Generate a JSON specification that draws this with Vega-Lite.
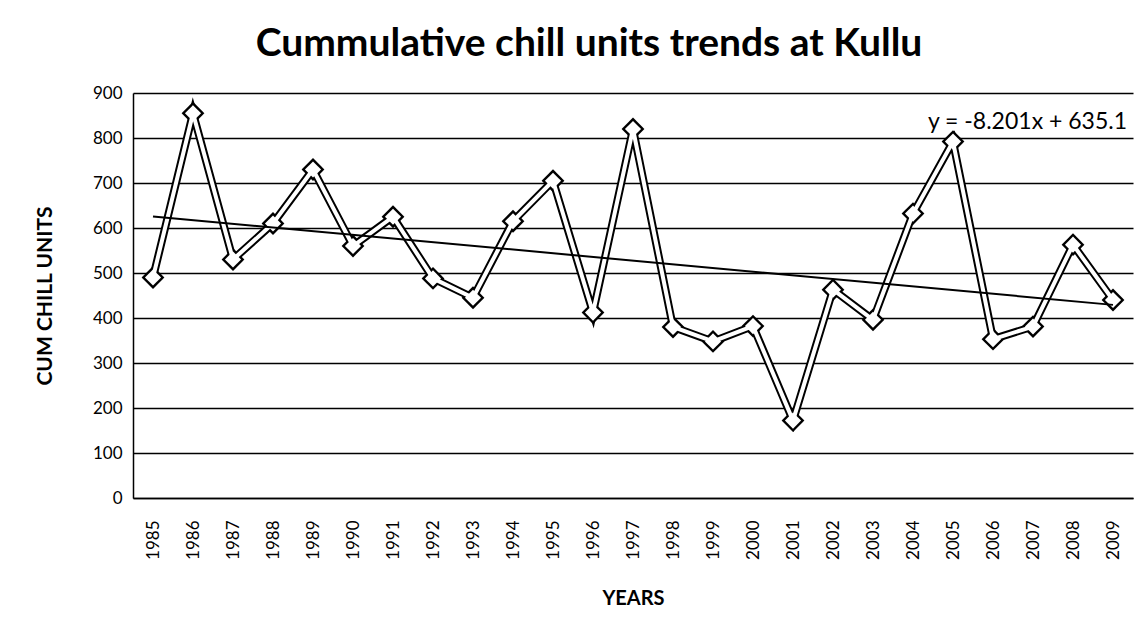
{
  "$schema": "https://vega.github.io/schema/vega-lite/v6.json",
  "autosize": {"type": "none"},
  "width": 1000,
  "height": 405,
  "padding": {"left": 133, "top": 93, "right": 10, "bottom": 131},
  "background": "white",
  "title": {
    "text": "Cummulative chill units trends at Kullu",
    "font": "Lato",
    "fontSize": 39,
    "fontWeight": "bold",
    "color": "black",
    "anchor": "middle",
    "frame": "group",
    "dx": -44,
    "offset": 20
  },
  "config": {
    "view": {"stroke": null},
    "axis": {"labelFont": "Lato", "titleFont": "Lato", "labelColor": "black", "titleColor": "black"}
  },
  "data": {
    "values": [
      {"year": 1985, "cu": 490},
      {"year": 1986, "cu": 855},
      {"year": 1987, "cu": 530},
      {"year": 1988, "cu": 610},
      {"year": 1989, "cu": 730},
      {"year": 1990, "cu": 560},
      {"year": 1991, "cu": 625},
      {"year": 1992, "cu": 488},
      {"year": 1993, "cu": 445},
      {"year": 1994, "cu": 615},
      {"year": 1995, "cu": 705},
      {"year": 1996, "cu": 412},
      {"year": 1997, "cu": 820},
      {"year": 1998, "cu": 380},
      {"year": 1999, "cu": 348},
      {"year": 2000, "cu": 382},
      {"year": 2001, "cu": 172},
      {"year": 2002, "cu": 463},
      {"year": 2003, "cu": 396},
      {"year": 2004, "cu": 632},
      {"year": 2005, "cu": 792},
      {"year": 2006, "cu": 353},
      {"year": 2007, "cu": 381},
      {"year": 2008, "cu": 563},
      {"year": 2009, "cu": 440}
    ]
  },
  "encoding": {
    "x": {
      "field": "year",
      "type": "ordinal",
      "scale": {"type": "point", "padding": 0.5},
      "axis": {
        "title": "YEARS",
        "titleFontSize": 20,
        "titleFontWeight": "bold",
        "titlePadding": 29,
        "labelAngle": -90,
        "labelFontSize": 17,
        "labelPadding": 22,
        "ticks": false,
        "domainColor": "black",
        "domainWidth": 1.5,
        "grid": false
      }
    },
    "y": {
      "field": "cu",
      "type": "quantitative",
      "scale": {"domain": [0, 900], "nice": false, "zero": true},
      "axis": {
        "title": "CUM CHILL UNITS",
        "titleFontSize": 21,
        "titleFontWeight": "bold",
        "titlePadding": 37,
        "values": [0, 100, 200, 300, 400, 500, 600, 700, 800, 900],
        "labelFontSize": 17,
        "labelPadding": 11,
        "ticks": false,
        "domainColor": "black",
        "domainWidth": 1.5,
        "grid": true,
        "gridColor": "black",
        "gridWidth": 1.5,
        "gridOpacity": 1
      }
    }
  },
  "layer": [
    {"mark": {"type": "line", "color": "black", "strokeWidth": 8, "strokeJoin": "miter"}},
    {"mark": {"type": "point", "shape": "diamond", "filled": true, "color": "black", "size": 520, "opacity": 1}},
    {"mark": {"type": "line", "color": "white", "strokeWidth": 4, "strokeJoin": "miter"}},
    {"mark": {"type": "point", "shape": "diamond", "filled": true, "color": "white", "size": 260, "opacity": 1}},
    {
      "transform": [{"regression": "cu", "on": "year", "method": "linear"}],
      "mark": {"type": "line", "color": "black", "strokeWidth": 2}
    },
    {
      "transform": [{"filter": "datum.year == 2009"}],
      "mark": {"type": "text", "text": "y = -8.201x + 635.1", "font": "Lato", "fontSize": 23, "align": "right", "baseline": "middle", "dx": 14, "color": "black"},
      "encoding": {
        "y": {"datum": 836, "type": "quantitative"}
      }
    }
  ]
}
